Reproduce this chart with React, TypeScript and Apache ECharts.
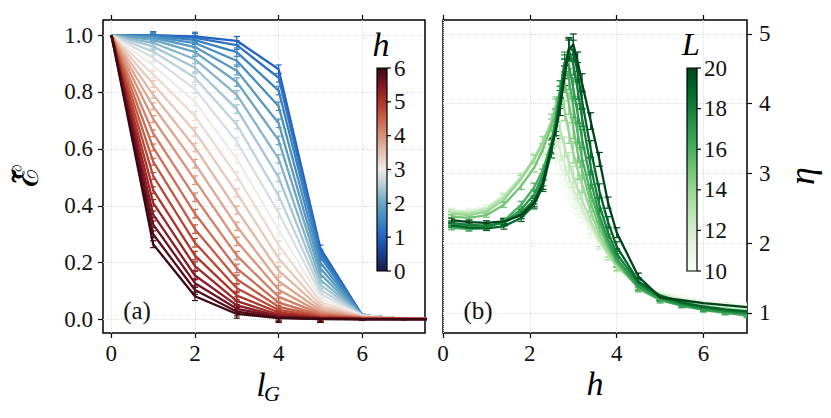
import React, { useEffect, useRef } from 'react';
import * as echarts from 'echarts';

// ---------- panel (a) ----------
const lG = [0, 1, 2, 3, 4, 5, 6, 7, 8];
const hValues = [1.0, 1.2, 1.4, 1.6, 1.8, 2.0, 2.2, 2.4, 2.6, 2.8, 3.0, 3.2, 3.4, 3.6, 3.8, 4.0, 4.2, 4.4, 4.6, 4.8, 5.0, 5.2, 5.4, 5.6, 5.8, 6.0];
const epsRows = [
  [1, 1.000, 0.995, 0.980, 0.880, 0.250, 0.015, 0.003, 0.002],
  [1, 0.999, 0.990, 0.965, 0.850, 0.235, 0.015, 0.003, 0.002],
  [1, 0.997, 0.982, 0.940, 0.805, 0.220, 0.015, 0.003, 0.002],
  [1, 0.994, 0.972, 0.910, 0.750, 0.200, 0.015, 0.003, 0.002],
  [1, 0.990, 0.958, 0.875, 0.690, 0.180, 0.015, 0.003, 0.002],
  [1, 0.983, 0.940, 0.835, 0.630, 0.160, 0.015, 0.003, 0.002],
  [1, 0.973, 0.915, 0.790, 0.565, 0.140, 0.015, 0.003, 0.002],
  [1, 0.960, 0.885, 0.740, 0.500, 0.122, 0.015, 0.003, 0.002],
  [1, 0.942, 0.850, 0.685, 0.435, 0.105, 0.015, 0.003, 0.002],
  [1, 0.920, 0.810, 0.625, 0.375, 0.090, 0.014, 0.003, 0.002],
  [1, 0.893, 0.765, 0.565, 0.315, 0.075, 0.013, 0.003, 0.002],
  [1, 0.862, 0.715, 0.505, 0.262, 0.062, 0.012, 0.003, 0.002],
  [1, 0.828, 0.660, 0.445, 0.215, 0.050, 0.011, 0.003, 0.002],
  [1, 0.790, 0.605, 0.385, 0.172, 0.040, 0.010, 0.003, 0.002],
  [1, 0.750, 0.548, 0.328, 0.135, 0.032, 0.009, 0.003, 0.002],
  [1, 0.705, 0.490, 0.275, 0.105, 0.025, 0.008, 0.003, 0.002],
  [1, 0.655, 0.430, 0.225, 0.080, 0.020, 0.007, 0.003, 0.002],
  [1, 0.605, 0.372, 0.180, 0.060, 0.016, 0.006, 0.003, 0.002],
  [1, 0.555, 0.318, 0.142, 0.045, 0.013, 0.005, 0.003, 0.002],
  [1, 0.505, 0.270, 0.110, 0.034, 0.010, 0.004, 0.003, 0.002],
  [1, 0.455, 0.225, 0.085, 0.025, 0.008, 0.003, 0.003, 0.002],
  [1, 0.410, 0.188, 0.065, 0.018, 0.006, 0.003, 0.002, 0.002],
  [1, 0.370, 0.155, 0.050, 0.013, 0.005, 0.002, 0.002, 0.002],
  [1, 0.335, 0.128, 0.038, 0.010, 0.004, 0.002, 0.002, 0.002],
  [1, 0.300, 0.104, 0.028, 0.007, 0.003, 0.002, 0.002, 0.002],
  [1, 0.265, 0.082, 0.020, 0.005, 0.002, 0.001, 0.001, 0.001],
];
const epsErr = [0, 0.012, 0.015, 0.015, 0.015, 0.012, 0.004, 0.002, 0.002];
const aXTicks = [0, 2, 4, 6];
const aYTicks = [0, 0.2, 0.4, 0.6, 0.8, 1.0];
const hBarTicks = [0, 1, 2, 3, 4, 5, 6];

// ---------- panel (b) ----------
const hGrid = [0.2, 0.6, 1.0, 1.4, 1.8, 2.1, 2.3, 2.5, 2.6, 2.7, 2.8, 2.9, 3.0, 3.1, 3.2, 3.4, 3.6, 3.8, 4.0, 4.5, 5.0, 5.5, 6.0, 6.5, 7.0];
const Ls = [10, 11, 12, 13, 14, 15, 16, 17, 18, 19, 20];
const etaRows = [
  [2.45, 2.46, 2.50, 2.65, 2.88, 3.05, 3.15, 3.20, 3.10, 2.98, 2.85, 2.72, 2.60, 2.50, 2.40, 2.18, 1.99, 1.83, 1.70, 1.45, 1.31, 1.23, 1.18, 1.14, 1.11],
  [2.47, 2.47, 2.52, 2.68, 2.92, 3.12, 3.27, 3.38, 3.28, 3.12, 2.96, 2.81, 2.67, 2.55, 2.43, 2.20, 2.00, 1.83, 1.68, 1.42, 1.29, 1.21, 1.16, 1.12, 1.09],
  [2.46, 2.45, 2.50, 2.68, 2.95, 3.20, 3.40, 3.58, 3.50, 3.32, 3.12, 2.94, 2.78, 2.63, 2.50, 2.25, 2.02, 1.83, 1.67, 1.40, 1.27, 1.19, 1.13, 1.09, 1.06],
  [2.44, 2.43, 2.48, 2.66, 2.95, 3.22, 3.45, 3.75, 3.82, 3.62, 3.38, 3.15, 2.95, 2.78, 2.62, 2.32, 2.05, 1.84, 1.66, 1.38, 1.24, 1.16, 1.10, 1.06, 1.03],
  [2.42, 2.40, 2.45, 2.62, 2.92, 3.20, 3.45, 3.75, 3.98, 4.12, 3.90, 3.58, 3.30, 3.05, 2.85, 2.45, 2.12, 1.88, 1.68, 1.37, 1.22, 1.14, 1.08, 1.04, 1.01],
  [2.38, 2.36, 2.40, 2.55, 2.82, 3.08, 3.35, 3.68, 3.95, 4.20, 4.30, 4.00, 3.65, 3.30, 3.05, 2.58, 2.22, 1.94, 1.72, 1.37, 1.20, 1.12, 1.06, 1.02, 0.99],
  [2.22, 2.20, 2.22, 2.32, 2.55, 2.80, 3.05, 3.45, 3.80, 4.20, 4.50, 4.35, 3.95, 3.58, 3.22, 2.72, 2.32, 1.99, 1.73, 1.35, 1.18, 1.10, 1.04, 1.00, 0.96],
  [2.27, 2.24, 2.23, 2.30, 2.48, 2.70, 2.98, 3.42, 3.80, 4.20, 4.60, 4.55, 4.22, 3.86, 3.50, 2.90, 2.40, 2.05, 1.78, 1.38, 1.20, 1.11, 1.05, 1.01, 0.98],
  [2.29, 2.26, 2.25, 2.29, 2.43, 2.62, 2.90, 3.38, 3.72, 4.12, 4.56, 4.76, 4.56, 4.20, 3.80, 3.10, 2.55, 2.15, 1.85, 1.42, 1.22, 1.13, 1.07, 1.03, 1.00],
  [2.25, 2.22, 2.21, 2.24, 2.36, 2.55, 2.82, 3.32, 3.66, 4.06, 4.50, 4.80, 4.76, 4.45, 4.05, 3.35, 2.75, 2.30, 1.95, 1.45, 1.25, 1.15, 1.09, 1.05, 1.02],
  [2.33, 2.30, 2.29, 2.31, 2.40, 2.58, 2.85, 3.40, 3.62, 3.96, 4.40, 4.78, 4.85, 4.60, 4.30, 3.75, 3.20, 2.58, 2.15, 1.52, 1.22, 1.18, 1.14, 1.11, 1.08],
];
const etaErr = [0.03, 0.03, 0.03, 0.04, 0.05, 0.06, 0.08, 0.10, 0.12, 0.13, 0.14, 0.15, 0.15, 0.14, 0.13, 0.12, 0.10, 0.08, 0.07, 0.05, 0.04, 0.03, 0.03, 0.03, 0.03];
const bXTicks = [0, 2, 4, 6];
const bYTicks = [1, 2, 3, 4, 5];
const LBarTicks = [10, 12, 14, 16, 18, 20];

// ---------- colormaps ----------
const divergingStops: [number, string][] = [
  [0, '#161b44'], [0.083, '#1c3d8a'], [0.167, '#2463c0'], [0.25, '#3f88c0'],
  [0.333, '#6aa5c2'], [0.417, '#b1ccd6'], [0.5, '#f0ecea'], [0.583, '#e6c0b0'],
  [0.667, '#d8937a'], [0.75, '#c8634a'], [0.833, '#b03428'], [0.917, '#7f1625'], [1, '#3c0912'],
];
const greenStops: [number, string][] = [
  [0, '#f7fcf5'], [0.125, '#e5f5e0'], [0.25, '#c7e9c0'], [0.375, '#a1d99b'], [0.5, '#74c476'],
  [0.625, '#41ab5d'], [0.75, '#238b45'], [0.875, '#006d2c'], [1, '#00441b'],
];

function hex(c: string) {
  return [parseInt(c.slice(1, 3), 16), parseInt(c.slice(3, 5), 16), parseInt(c.slice(5, 7), 16)];
}
function cmap(stops: [number, string][], t: number) {
  t = Math.max(0, Math.min(1, t));
  for (let i = 1; i < stops.length; i++) {
    if (t <= stops[i][0]) {
      const [t0, c0] = stops[i - 1];
      const [t1, c1] = stops[i];
      const f = (t - t0) / (t1 - t0);
      const a = hex(c0), b = hex(c1);
      const r = a.map((v, k) => Math.round(v + (b[k] - v) * f));
      return `rgb(${r[0]},${r[1]},${r[2]})`;
    }
  }
  return stops[stops.length - 1][1];
}

const FONT = 'Liberation Serif';

function errSeries(name: string, data: number[][], color: string, xi: number, capW: number, lw: number) {
  return {
    type: 'custom',
    name,
    xAxisIndex: xi,
    yAxisIndex: xi,
    clip: true,
    silent: true,
    data,
    encode: { x: 0, y: 1 },
    renderItem: (params: any, api: any) => {
      const x = api.value(0), y = api.value(1), e = api.value(2);
      if (!e) return null;
      const p1 = api.coord([x, y - e]);
      const p2 = api.coord([x, y + e]);
      const st = { stroke: color, lineWidth: lw };
      return {
        type: 'group',
        children: [
          { type: 'line', shape: { x1: p1[0], y1: p1[1], x2: p2[0], y2: p2[1] }, style: st },
          { type: 'line', shape: { x1: p1[0] - capW, y1: p1[1], x2: p1[0] + capW, y2: p1[1] }, style: st },
          { type: 'line', shape: { x1: p2[0] - capW, y1: p2[1], x2: p2[0] + capW, y2: p2[1] }, style: st },
        ],
      };
    },
  };
}

function colorbar(x: number, top: number, bottom: number, w: number, stops: [number, string][], ticks: number[], vmin: number, vmax: number) {
  const els: any[] = [];
  els.push({
    type: 'rect',
    shape: { x, y: top, width: w, height: bottom - top },
    style: {
      fill: new echarts.graphic.LinearGradient(0, 1, 0, 0, stops.map(([o, c]) => ({ offset: o, color: c }))),
      stroke: '#000',
      lineWidth: 1.2,
    },
    z: 100,
  });
  ticks.forEach((v) => {
    const y = bottom - ((v - vmin) / (vmax - vmin)) * (bottom - top);
    els.push({ type: 'line', shape: { x1: x + w, y1: y, x2: x + w + 4, y2: y }, style: { stroke: '#000', lineWidth: 1.2 }, z: 100 });
    els.push({
      type: 'text', x: x + w + 7, y, z: 100,
      style: { text: String(v), fontFamily: FONT, fontSize: 23, fill: '#111', textAlign: 'left', textVerticalAlign: 'middle' },
    });
  });
  return els;
}

export default function App() {
  const ref = useRef<HTMLDivElement>(null);
  useEffect(() => {
    document.body.style.margin = '0';
    const chart = echarts.init(ref.current!, null, { renderer: 'svg' });

    const series: any[] = [];
    hValues.forEach((h, k) => {
      const color = cmap(divergingStops, h / 6);
      series.push({
        type: 'line', xAxisIndex: 0, yAxisIndex: 0, showSymbol: false, silent: true,
        data: lG.map((x, i) => [x, epsRows[k][i]]),
        lineStyle: { color, width: 2.3 },
        z: 2,
      });
      series.push(errSeries('ea' + k, lG.map((x, i) => [x, epsRows[k][i], epsErr[i]]), color, 0, 3, 1.2));
    });
    Ls.forEach((L, k) => {
      const color = cmap(greenStops, (L - 10) / 10);
      series.push({
        type: 'line', xAxisIndex: 1, yAxisIndex: 1, showSymbol: false, silent: true,
        data: hGrid.map((x, i) => [x, etaRows[k][i]]),
        lineStyle: { color, width: 2.3 },
        z: 2,
      });
      series.push(errSeries('eb' + k, hGrid.map((x, i) => [x, etaRows[k][i], etaErr[i]]), color, 1, 3.5, 1.2));
    });

    const tickLabel = { fontFamily: FONT, fontSize: 23, color: '#111' };
    const split = { show: true, lineStyle: { color: '#dcdcdc', type: 'dotted', width: 1 } };
    const tick = (vals: number[]) => ({ show: true, inside: false, customValues: vals, length: 5, lineStyle: { color: '#000', width: 1.2 } });
    const noLine = { show: false, onZero: false };

    const option: any = {
      animation: false,
      grid: [
        { left: 103, top: 20, width: 322, height: 313, show: true, borderColor: '#000', borderWidth: 1.5, backgroundColor: 'transparent' },
        { left: 443, top: 20, width: 304, height: 313, show: true, borderColor: '#000', borderWidth: 1.5, backgroundColor: 'transparent' },
      ],
      xAxis: [
        {
          type: 'value', gridIndex: 0, min: -0.2, max: 7.5, position: 'bottom',
          axisLine: noLine, axisTick: tick(aXTicks),
          axisLabel: { customValues: aXTicks, margin: 9, ...tickLabel },
          splitLine: split,
        },
        {
          type: 'value', gridIndex: 1, min: 0, max: 7, position: 'bottom',
          axisLine: noLine, axisTick: tick(bXTicks),
          axisLabel: { customValues: bXTicks, margin: 9, ...tickLabel },
          splitLine: split,
        },
        {
          type: 'value', gridIndex: 0, min: -0.2, max: 7.5, position: 'top',
          axisLine: noLine, axisTick: tick(aXTicks),
          axisLabel: { show: false, customValues: aXTicks },
          splitLine: { show: false },
        },
        {
          type: 'value', gridIndex: 1, min: 0, max: 7, position: 'top',
          axisLine: noLine, axisTick: tick(bXTicks),
          axisLabel: { show: false, customValues: bXTicks },
          splitLine: { show: false },
        },
      ],
      yAxis: [
        {
          type: 'value', gridIndex: 0, min: -0.047, max: 1.053, position: 'left',
          axisLine: noLine, axisTick: tick(aYTicks),
          axisLabel: { customValues: aYTicks, margin: 10, formatter: (v: number) => v.toFixed(1), ...tickLabel },
          splitLine: split,
        },
        {
          type: 'value', gridIndex: 1, min: 0.71, max: 5.2, position: 'right',
          axisLine: noLine, axisTick: tick(bYTicks),
          axisLabel: { customValues: bYTicks, margin: 12, ...tickLabel },
          splitLine: split,
        },
      ],
      series,
      graphic: [
        ...colorbar(377, 68, 271, 10, divergingStops, hBarTicks, 0, 6),
        ...colorbar(687, 68, 271, 10, greenStops, LBarTicks, 10, 20),
        { type: 'text', x: 381, y: 44, z: 100, style: { text: 'h', fontFamily: FONT, fontStyle: 'italic', fontSize: 34, fill: '#000', textAlign: 'center', textVerticalAlign: 'middle' } },
        { type: 'text', x: 691, y: 44, z: 100, style: { text: 'L', fontFamily: FONT, fontStyle: 'italic', fontSize: 32, fill: '#000', textAlign: 'center', textVerticalAlign: 'middle' } },
        { type: 'text', x: 137, y: 310, z: 100, style: { text: '(a)', fontFamily: FONT, fontSize: 25, fill: '#111', textAlign: 'center', textVerticalAlign: 'middle' } },
        { type: 'text', x: 478, y: 310, z: 100, style: { text: '(b)', fontFamily: FONT, fontSize: 25, fill: '#111', textAlign: 'center', textVerticalAlign: 'middle' } },
        { type: 'text', x: 261, y: 384, z: 100, style: { text: 'l', fontFamily: FONT, fontStyle: 'italic', fontSize: 34, fill: '#000', textAlign: 'center', textVerticalAlign: 'middle' } },
        { type: 'text', x: 272, y: 393, z: 100, style: { text: 'G', fontFamily: FONT, fontStyle: 'italic', fontSize: 22, fill: '#000', textAlign: 'center', textVerticalAlign: 'middle' } },
        { type: 'text', x: 595, y: 383, z: 100, style: { text: 'h', fontFamily: FONT, fontStyle: 'italic', fontSize: 34, fill: '#000', textAlign: 'center', textVerticalAlign: 'middle' } },
        { type: 'text', x: 26, y: 176, rotation: Math.PI / 2, z: 100, style: { text: 'ℰ\u0303', fontFamily: FONT, fontSize: 36, fill: '#000', textAlign: 'center', textVerticalAlign: 'middle' } },
        { type: 'text', x: 802, y: 176, rotation: Math.PI / 2, z: 100, style: { text: 'η', fontFamily: FONT, fontStyle: 'italic', fontSize: 36, fill: '#000', textAlign: 'center', textVerticalAlign: 'middle' } },
      ],
    };
    chart.setOption(option);
    return () => chart.dispose();
  }, []);
  return <div ref={ref} style={{ width: 831, height: 418 }} />;
}
